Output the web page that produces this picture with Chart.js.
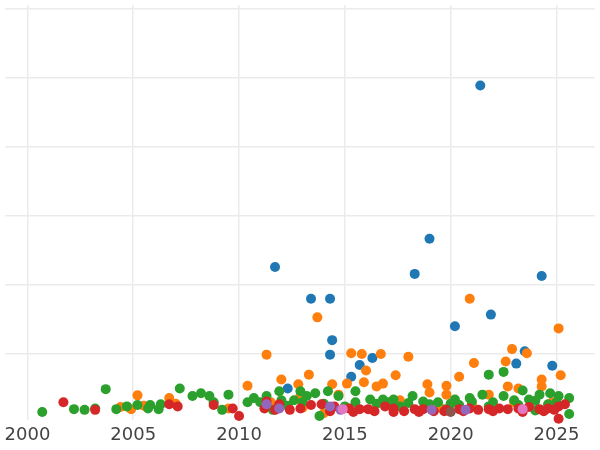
<!DOCTYPE html>
<html>
<head>
<meta charset="utf-8">
<script src="https://cdn.jsdelivr.net/npm/chart.js@4"></script>
<style>
  html, body { margin: 0; padding: 0; background: #fff; }
  #wrap { width: 600px; height: 450px; }
</style>
</head>
<body>
<div id="wrap"><canvas id="grafico"></canvas></div>
<script>
// [year, value] pairs per series
const serieAzul = [
  [2021.4, 489], [2019.0, 267], [2011.7, 226], [2013.4, 180], [2014.3, 180],
  [2018.3, 216], [2024.3, 213], [2021.9, 157], [2020.2, 140], [2014.4, 120],
  [2014.3, 99], [2016.3, 94], [2015.3, 67], [2015.7, 84], [2023.5, 104],
  [2024.8, 83], [2023.1, 86], [2012.3, 50], [2011.3, 33]
];
const serieLaranja = [
  [2020.9, 180], [2013.7, 153], [2025.1, 137], [2011.3, 99], [2015.3, 101],
  [2015.8, 100], [2016.7, 100], [2018.0, 96], [2021.1, 87], [2022.9, 107],
  [2023.6, 101], [2016.0, 76], [2013.3, 70], [2012.8, 56], [2012.0, 63],
  [2015.9, 59], [2014.4, 56], [2015.1, 57], [2017.4, 69], [2016.5, 53],
  [2016.8, 57], [2018.9, 56], [2019.8, 54], [2020.4, 67], [2025.2, 69],
  [2024.3, 63], [2024.3, 53], [2010.4, 54], [2005.2, 40], [2006.7, 36],
  [2004.4, 23], [2009.5, 21], [2014.0, 14], [2019.0, 44], [2019.8, 41],
  [2022.6, 89], [2022.7, 53], [2021.8, 41], [2023.2, 50], [2017.6, 33],
  [2012.9, 39], [2014.7, 41], [2005.5, 25], [2007.0, 28], [2011.5, 30],
  [2013.0, 22], [2017.0, 26], [2019.5, 22], [2021.0, 28], [2023.0, 30],
  [2024.8, 30], [2004.9, 20]
];
const serieVerde = [
  [2000.7, 16], [2002.2, 20], [2002.7, 19], [2003.2, 21], [2003.7, 49],
  [2004.2, 20], [2004.7, 24], [2005.2, 26], [2005.8, 26], [2006.3, 27],
  [2005.7, 21], [2006.2, 20], [2007.2, 50], [2007.8, 39], [2008.2, 43],
  [2008.6, 39], [2008.8, 30], [2009.5, 41], [2009.2, 19], [2010.4, 30],
  [2010.7, 36], [2011.3, 39], [2011.6, 19], [2012.0, 33], [2012.6, 33],
  [2013.2, 39], [2013.6, 43], [2013.8, 10], [2014.2, 46], [2014.7, 39],
  [2015.5, 46], [2016.2, 34], [2016.8, 34], [2017.3, 34], [2018.2, 39],
  [2018.7, 31], [2019.4, 30], [2020.2, 34], [2020.9, 36], [2021.5, 41],
  [2021.8, 70], [2022.5, 74], [2022.5, 39], [2023.4, 47], [2023.7, 34],
  [2024.2, 41], [2024.7, 43], [2025.1, 39], [2025.6, 36], [2025.6, 13],
  [2011.9, 46], [2012.9, 46], [2015.0, 24], [2017.6, 24], [2020.4, 26],
  [2021.8, 24], [2023.2, 26], [2024.6, 27], [2011.0, 30], [2012.3, 25],
  [2013.0, 30], [2014.0, 28], [2015.5, 30], [2016.5, 28], [2017.0, 30],
  [2018.0, 29], [2019.0, 27], [2020.0, 28], [2021.0, 31], [2022.0, 30],
  [2023.0, 33], [2024.0, 32], [2025.0, 30], [2019.8, 20], [2024.0, 18]
];
const serieVermelha = [
  [2001.7, 30], [2003.2, 19], [2006.7, 27], [2007.1, 24], [2008.8, 26],
  [2009.7, 21], [2010.0, 10], [2011.2, 21], [2011.3, 31], [2011.7, 19],
  [2012.4, 19], [2013.4, 26], [2013.9, 27], [2014.5, 24], [2015.2, 21],
  [2015.7, 20], [2016.1, 20], [2016.9, 24], [2017.3, 21], [2017.8, 17],
  [2018.3, 20], [2018.7, 20], [2019.2, 17], [2019.8, 19], [2020.4, 20],
  [2020.9, 21], [2021.3, 19], [2021.8, 20], [2022.3, 21], [2022.7, 20],
  [2023.2, 21], [2023.7, 23], [2024.2, 20], [2024.6, 21], [2025.1, 24],
  [2025.4, 27], [2025.1, 6], [2011.9, 27], [2012.9, 21], [2014.3, 17],
  [2015.4, 16], [2016.4, 17], [2017.3, 16], [2018.5, 16], [2019.7, 17],
  [2020.6, 17], [2022.0, 17], [2023.4, 16], [2024.4, 17], [2024.9, 19]
];
const serieRoxa = [[2011.3, 27], [2011.9, 21], [2014.3, 24], [2014.8, 19], [2019.1, 19], [2020.7, 19]];
const serieMarrom = [[2020.0, 16]];
const serieRosa = [[2014.9, 20], [2023.4, 20]];

const anosTicks = [2000, 2005, 2010, 2015, 2020, 2025];
const valoresTicks = [100, 200, 300, 400, 500, 600];

const series = [
  [serieAzul, '#1f77b4'], [serieLaranja, '#ff7f0e'], [serieVerde, '#2ca02c'],
  [serieVermelha, '#d62728'], [serieRoxa, '#9467bd'], [serieMarrom, '#8c564b'],
  [serieRosa, '#e377c2']
];

const ctx = document.getElementById('grafico');
new Chart(ctx, {
  type: 'scatter',
  data: {
    datasets: series.map(([pts, cor], i) => ({
      data: pts.map(([x, y]) => ({ x, y })),
      backgroundColor: cor,
      borderWidth: 0,
      pointRadius: 5,
      clip: false,
      order: series.length - i
    }))
  },
  options: {
    responsive: true,
    maintainAspectRatio: false,
    animation: false,
    layout: { padding: { left: 0, right: 0, top: 0, bottom: 0 } },
    plugins: { legend: { display: false }, tooltip: { enabled: false } },
    scales: {
      x: {
        type: 'linear', min: 1998.94, max: 2026.82,
        afterBuildTicks: axis => { axis.ticks = anosTicks.map(v => ({ value: v })); },
        ticks: {
          color: '#444', padding: 4, maxRotation: 0,
          font: { family: 'DejaVu Sans', size: 18 },
          callback: v => String(v)
        },
        grid: { color: '#ebebeb', lineWidth: 1.5, drawTicks: false },
        border: { display: false }
      },
      y: {
        type: 'linear', min: 3.7, max: 605.6,
        afterBuildTicks: axis => { axis.ticks = valoresTicks.map(v => ({ value: v })); },
        ticks: { display: false },
        grid: { color: '#ebebeb', lineWidth: 1.5, drawTicks: false },
        border: { display: false }
      }
    }
  }
});
</script>
</body>
</html>
